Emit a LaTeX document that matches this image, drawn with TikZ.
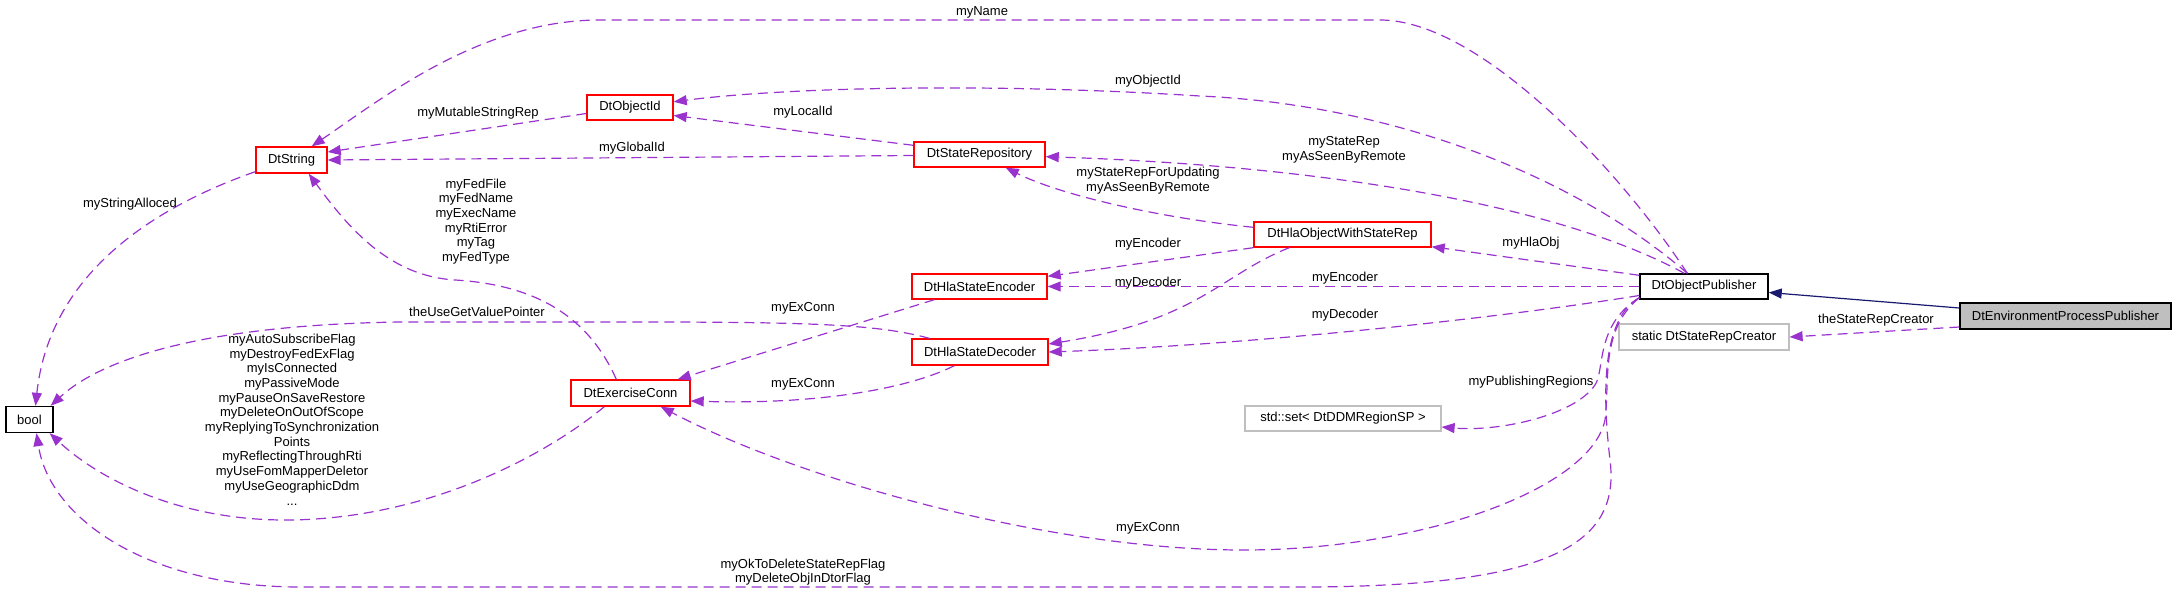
\documentclass[tikz,border=0pt]{standalone}
\usepackage{fontspec}
\setmainfont{Liberation Sans}
\usetikzlibrary{arrows.meta,calc}
\definecolor{dep}{HTML}{9A32CD}
\definecolor{inh}{HTML}{191970}
\definecolor{boxred}{HTML}{FF0000}
\definecolor{boxgray}{HTML}{BFBFBF}
\begin{document}
\begin{tikzpicture}[x=1pt,y=-1pt,
  cls/.style={draw, line width=1.4pt, inner sep=0pt, font=\fontsize{13}{15}\selectfont, minimum height=25pt, fill=white},
  redbox/.style={cls, draw=boxred},
  blackbox/.style={cls, draw=black},
  graybox/.style={cls, draw=boxgray, line width=1.2pt},
  depline/.style={draw=dep, line width=1.2pt, dash pattern=on 10pt off 6pt, -{Triangle[length=13pt,width=10pt]}},
  inhline/.style={draw=inh, line width=1.2pt, -{Triangle[length=13pt,width=10pt]}},
  lbl/.style={font=\fontsize{13}{14.7}\selectfont, align=center, inner sep=0pt},
]
\useasboundingbox (0,0) rectangle (2176,594);

% classes
\node[blackbox, minimum width=47pt, minimum height=26pt] (bool) at (29.5,419.5) {bool};
\node[redbox, minimum width=71pt, minimum height=26pt] (str) at (291.5,160) {DtString};
\node[redbox, minimum width=86pt] (oid) at (630,107.5) {DtObjectId};
\node[redbox, minimum width=131pt] (srep) at (979.5,154.5) {DtStateRepository};
\node[redbox, minimum width=177pt] (hla) at (1342.5,234.5) {DtHlaObjectWithStateRep};
\node[redbox, minimum width=135pt] (enc) at (979.5,286.5) {DtHlaStateEncoder};
\node[redbox, minimum width=136pt, minimum height=26pt] (dec) at (980,352) {DtHlaStateDecoder};
\node[redbox, minimum width=119pt, minimum height=26pt] (exc) at (630.5,393) {DtExerciseConn};
\node[graybox, minimum width=196pt] (set) at (1343,418.5) {std::set< DtDDMRegionSP >};
\node[blackbox, minimum width=128pt] (pub) at (1704,286.5) {DtObjectPublisher};
\node[blackbox, fill=boxgray, minimum width=211pt, minimum height=26pt] (env) at (2065.5,316) {DtEnvironmentProcessPublisher};
\node[graybox, minimum width=170pt, minimum height=26pt] (src) at (1704,337) {static DtStateRepCreator};

\coordinate (pubtop) at ($(pub.north west)+(48,0)$);
\coordinate (pubsw) at ($(pub.south west)+(0,-2)$);

% connectors
\draw[depline] (pubtop) .. controls (1620,170) and (1480,20) .. (1380,20) -- (600,20) .. controls (480,20) and (380,100) .. (str);
\draw[depline] ($(oid.west)+(0,6)$) -- ($(str.east)+(0,-8)$);
\draw[depline] ($(srep.west)+(0,1)$) -- (str.east);
\draw[depline] ($(srep.north west)+(0,4)$) -- ($(oid.east)+(0,8)$);
\draw[depline] (pubtop) .. controls (1580,180) and (1400,105) .. (1200,96) .. controls (980,82) and (780,88) .. (oid);
\draw[depline] ($(pub.north west)+(45,0)$) .. controls (1550,200) and (1300,165) .. (srep);
\draw[depline] ($(hla.north west)+(0,6)$) .. controls (1160,218) and (1060,195) .. (srep);
\draw[depline] ($(pub.north west)+(0,2)$) -- ($(hla.south east)+(0,-1)$);
\draw[depline] (hla.south west) -- ($(enc.north east)+(0,3)$);
\draw[depline] ($(hla.south west)+(36,0)$) .. controls (1220,275) and (1200,320) .. ($(dec.east)+(0,-8)$);
\draw[depline] (pub.west) -- (enc.east);
\draw[depline] ($(pub.west)+(0,9)$) .. controls (1500,318) and (1250,345) .. (dec.east);
\draw[depline] ($(enc.south west)+(23,0)$) -- ($(exc.north east)+(-13,0)$);
\draw[depline] ($(dec.south west)+(43,0)$) .. controls (910,388) and (820,405) .. ($(exc.east)+(0,8)$);
\draw[depline] ($(dec.north west)+(18,0)$) .. controls (880,325) and (820,322) .. (640,322) -- (400,322) .. controls (200,325) and (100,360) .. ($(bool.north east)+(-3,0)$);
\draw[depline] ($(exc.north west)+(46,0)$) .. controls (590,320) and (540,285) .. (455,280) .. controls (390,276) and (350,230) .. ($(str.south east)+(-19,0)$);
\draw[depline] ($(exc.south west)+(34,0)$) .. controls (540,460) and (420,520) .. (285,520) .. controls (180,520) and (100,480) .. ($(bool.south east)+(-4,0)$);
\draw[depline] ($(str.south west)+(0,-2)$) .. controls (160,205) and (50,270) .. ($(bool.north)+(6,0)$);
\draw[depline] (pubsw) .. controls (1600,320) and (1603,400) .. (1610,460) .. controls (1620,540) and (1560,587) .. (1300,587) -- (300,587) .. controls (150,587) and (50,520) .. ($(bool.south)+(7,0)$);
\draw[depline] (pubsw) .. controls (1600,330) and (1610,380) .. (1605,420) .. controls (1590,490) and (1420,550) .. (1243,550) .. controls (1050,550) and (800,480) .. ($(exc.south east)+(-30,0)$);
\draw[depline] (pubsw) .. controls (1595,325) and (1605,370) .. (1595,385) .. controls (1575,415) and (1500,432) .. (set);
\draw[inhline] ($(env.west)+(0,-8)$) -- ($(pub.east)+(0,6)$);
\draw[depline] ($(env.west)+(0,11)$) -- (src.east);

% labels
\node[lbl] (l1) at (982,12) {myName};
\node[lbl] (l2) at (478,113) {myMutableStringRep};
\node[lbl] (l3) at (632,148) {myGlobalId};
\node[lbl] (l4) at (803,112) {myLocalId};
\node[lbl] (l5) at (1148,81) {myObjectId};
\node[lbl] (l6) at (1344,150) {myStateRep\\myAsSeenByRemote};
\node[lbl] (l7) at (1148,180.5) {myStateRepForUpdating\\myAsSeenByRemote};
\node[lbl] (l8) at (1531,243) {myHlaObj};
\node[lbl] (l9) at (1148,244) {myEncoder};
\node[lbl] (l10) at (1148,283) {myDecoder};
\node[lbl] (l11) at (1345,278) {myEncoder};
\node[lbl] (l12) at (1345,315) {myDecoder};
\node[lbl] (l13) at (803,308) {myExConn};
\node[lbl] (l14) at (803,384) {myExConn};
\node[lbl] (l15) at (477,312) {theUseGetValuePointer};
\node[lbl] (l16) at (476,221.5) {myFedFile\\myFedName\\myExecName\\myRtiError\\myTag\\myFedType};
\node[lbl] (l17) at (292,419.5) {myAutoSubscribeFlag\\myDestroyFedExFlag\\myIsConnected\\myPassiveMode\\myPauseOnSaveRestore\\myDeleteOnOutOfScope\\myReplyingToSynchronization\\Points\\myReflectingThroughRti\\myUseFomMapperDeletor\\myUseGeographicDdm\\...};
\node[lbl] (l18) at (130,204) {myStringAlloced};
\node[lbl] (l19) at (803,572) {myOkToDeleteStateRepFlag\\myDeleteObjInDtorFlag};
\node[lbl] (l20) at (1148,528) {myExConn};
\node[lbl] (l21) at (1531,382) {myPublishingRegions};
\node[lbl] (l22) at (1876,320) {theStateRepCreator};
\end{tikzpicture}
\end{document}
